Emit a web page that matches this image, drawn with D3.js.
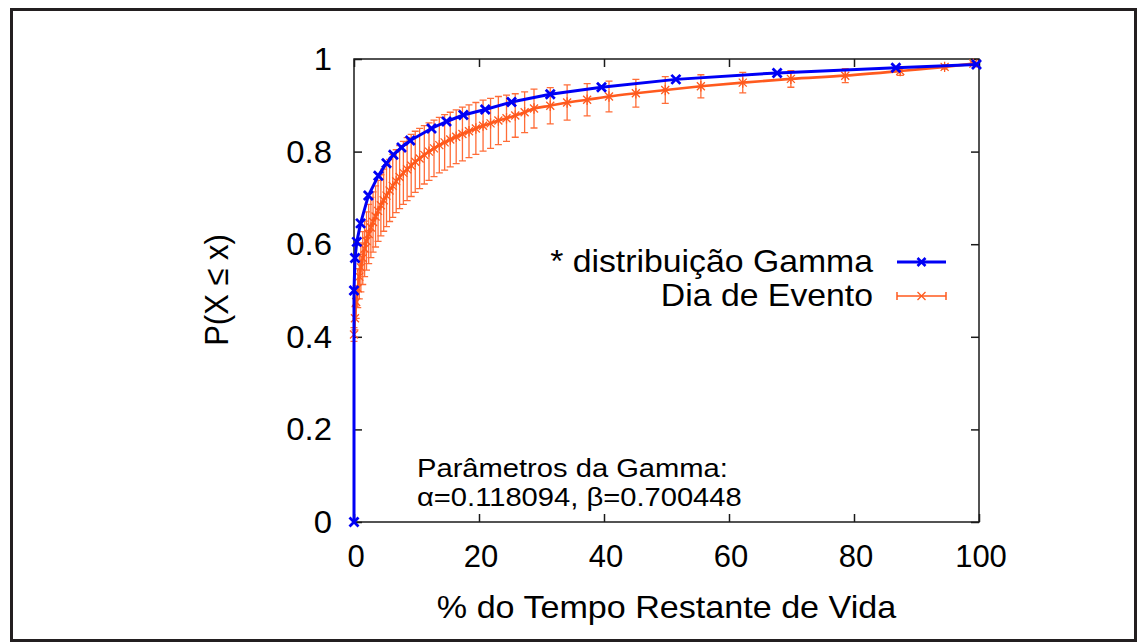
<!DOCTYPE html>
<html>
<head>
<meta charset="utf-8">
<script src="https://cdn.jsdelivr.net/npm/d3@7"></script>
<style>
  html, body { margin: 0; padding: 0; background: #fff; }
  svg { display: block; }
  text { font-family: "Liberation Sans", Arial, Helvetica, sans-serif; fill: #000; }
</style>
</head>
<body>
<svg id="chart" width="1137" height="643"></svg>
<script>
// Fitted Gamma CDF, sampled at the marker positions
const gammaX = [0, 0, 0.16, 0.45, 1.05, 2.3, 3.9, 5.2, 6.3, 7.6, 9.0, 12.4, 14.8, 17.5, 21.0, 25.2, 31.4, 39.6, 51.5, 67.7, 86.7, 99.6];
const gammaY = [0, 0.50, 0.57, 0.605, 0.645, 0.705, 0.748, 0.775, 0.793, 0.809, 0.824, 0.850, 0.865, 0.879, 0.891, 0.907, 0.924, 0.939, 0.956, 0.970, 0.981, 0.988];

// Empirical CDF for event days, with its error half-width
const eventX = [0, 0.15, 0.35, 0.6, 0.85, 1.1, 1.4, 1.7, 2.0, 2.35, 2.7, 3.05, 3.45, 3.85, 4.3, 4.75, 5.2, 5.7, 6.2, 6.75, 7.3, 7.9, 8.5, 9.15, 9.8, 10.5, 11.25, 12.0, 12.8, 13.65, 14.5, 15.4, 16.35, 17.35, 18.4, 19.5, 20.65, 21.85, 23.1, 24.4, 25.8, 27.3, 28.8, 31.4, 34.1, 37.3, 40.8, 45.1, 49.8, 55.5, 62.2, 69.9, 78.6, 87.4, 94.5, 99.1];
const eventY = [0.405, 0.44, 0.475, 0.505, 0.53, 0.55, 0.57, 0.59, 0.607, 0.622, 0.636, 0.648, 0.66, 0.672, 0.684, 0.695, 0.705, 0.716, 0.726, 0.736, 0.745, 0.754, 0.762, 0.770, 0.778, 0.785, 0.793, 0.800, 0.807, 0.814, 0.820, 0.826, 0.832, 0.838, 0.844, 0.850, 0.856, 0.861, 0.867, 0.872, 0.878, 0.885, 0.893, 0.899, 0.906, 0.912, 0.919, 0.926, 0.933, 0.941, 0.949, 0.957, 0.964, 0.974, 0.983, 0.990];
const eventErr = [0.015, 0.025, 0.035, 0.042, 0.048, 0.053, 0.057, 0.06, 0.063, 0.064, 0.065, 0.065, 0.066, 0.066, 0.066, 0.067, 0.067, 0.067, 0.068, 0.068, 0.068, 0.068, 0.068, 0.067, 0.066, 0.065, 0.063, 0.062, 0.061, 0.060, 0.060, 0.059, 0.058, 0.058, 0.057, 0.056, 0.055, 0.054, 0.052, 0.050, 0.047, 0.044, 0.042, 0.039, 0.038, 0.035, 0.033, 0.030, 0.029, 0.025, 0.022, 0.018, 0.015, 0.0095, 0.005, 0.0035];

const xTicks = [0, 20, 40, 60, 80, 100];
const xTickLabels = ["0", "20", "40", "60", "80", "100"];
const yTicks = [0, 0.2, 0.4, 0.6, 0.8, 1];
const yTickLabels = ["0", "0.2", "0.4", "0.6", "0.8", "1"];

const seriesNames = ["* distribuição Gamma", "Dia de Evento"];
const xLabel = "% do Tempo Restante de Vida";
const yLabel = "P(X \u2264 x)";
const noteLines = ["Parâmetros da Gamma:", "\u03B1=0.118094, \u03B2=0.700448"];

const BLUE = "#0000f5";
const ORANGE = "#ff5a1e";
const ORANGE_BAR = "#ff6d38";

const svg = d3.select("#chart");
const plot = { left: 354, top: 59, right: 979, bottom: 522 };

const x = d3.scaleLinear().domain([0, 100]).range([plot.left, plot.right]);
const y = d3.scaleLinear().domain([0, 1]).range([plot.bottom, plot.top]);

// Text is set slightly wide, as in the printed figure
function placeText(sel, px, py, sx, extra) {
  return sel.attr("x", 0).attr("y", 0)
    .attr("transform", `translate(${px},${py}) scale(${sx},1)${extra || ""}`);
}

// Outer page frame
svg.append("rect")
  .attr("x", 11.5).attr("y", 9.5)
  .attr("width", 1124).attr("height", 631)
  .attr("fill", "none").attr("stroke", "#231f20").attr("stroke-width", 3);

// Plot border
svg.append("rect")
  .attr("x", plot.left).attr("y", plot.top)
  .attr("width", plot.right - plot.left).attr("height", plot.bottom - plot.top)
  .attr("fill", "none").attr("stroke", "#1a1a1a").attr("stroke-width", 1.5);

// Inward ticks on all four sides
const tickLen = 8;
const axisStyle = g => {
  g.select(".domain").remove();
  g.selectAll(".tick line").attr("stroke", "#1a1a1a").attr("stroke-width", 1.5);
  g.selectAll(".tick text").remove();
};
svg.append("g").attr("transform", `translate(0,${plot.bottom})`)
  .call(d3.axisTop(x).tickValues(xTicks).tickSize(tickLen)).call(axisStyle);
svg.append("g").attr("transform", `translate(0,${plot.top})`)
  .call(d3.axisBottom(x).tickValues(xTicks).tickSize(tickLen)).call(axisStyle);
svg.append("g").attr("transform", `translate(${plot.left},0)`)
  .call(d3.axisRight(y).tickValues(yTicks).tickSize(tickLen)).call(axisStyle);
svg.append("g").attr("transform", `translate(${plot.right},0)`)
  .call(d3.axisLeft(y).tickValues(yTicks).tickSize(tickLen)).call(axisStyle);

// Tick labels
svg.append("g").selectAll("text").data(xTicks).join("text")
  .attr("text-anchor", "middle").attr("font-size", 31)
  .each(function (d) { placeText(d3.select(this), x(d) + 2, 567, 1.0); })
  .text((d, i) => xTickLabels[i]);
svg.append("g").selectAll("text").data(yTicks).join("text")
  .attr("text-anchor", "end").attr("font-size", 31)
  .each(function (d) { placeText(d3.select(this), 332, y(d) + 11, 1.06); })
  .text((d, i) => yTickLabels[i]);

// Axis titles
placeText(svg.append("text"), (plot.left + plot.right) / 2, 618, 1.1)
  .attr("text-anchor", "middle").attr("font-size", 31)
  .text(xLabel);
placeText(svg.append("text"), 228, 290, 1.1, " rotate(-90)")
  .attr("text-anchor", "middle").attr("font-size", 31)
  .text(yLabel);

// Marker shapes
function crossPath(s) {
  return `M${-s},${-s}L${s},${s}M${-s},${s}L${s},${-s}`;
}
function starPath(s) {
  return `M${-s},${-s}L${s},${s}M${-s},${s}L${s},${-s}M0,${-s * 1.3}L0,${s * 1.3}`;
}

const eventData = eventX.map((d, i) => ({ x: d, y: eventY[i], e: eventErr[i] }));
const gammaData = gammaX.map((d, i) => ({ x: d, y: gammaY[i] }));

// Event-day series: error bars, line, markers
const ev = svg.append("g");
const cap = 3.5;
ev.selectAll("path.err").data(eventData).join("path")
  .attr("class", "err")
  .attr("d", d => {
    const cx = x(d.x), y0 = y(d.y - d.e), y1 = y(d.y + d.e);
    return `M${cx},${y0}L${cx},${y1}M${cx - cap},${y0}L${cx + cap},${y0}M${cx - cap},${y1}L${cx + cap},${y1}`;
  })
  .attr("fill", "none").attr("stroke", ORANGE_BAR).attr("stroke-width", 1.3);
ev.append("path")
  .datum(eventData)
  .attr("d", d3.line().x(d => x(d.x)).y(d => y(d.y)).curve(d3.curveMonotoneX))
  .attr("fill", "none").attr("stroke", ORANGE).attr("stroke-width", 2.6);
ev.selectAll("path.pt").data(eventData).join("path")
  .attr("class", "pt")
  .attr("transform", d => `translate(${x(d.x)},${y(d.y)})`)
  .attr("d", starPath(4))
  .attr("fill", "none").attr("stroke", ORANGE).attr("stroke-width", 1.3);

// Gamma series: line and markers
const gm = svg.append("g");
gm.append("path")
  .datum(gammaData)
  .attr("d", d3.line().x(d => x(d.x)).y(d => y(d.y)))
  .attr("fill", "none").attr("stroke", BLUE).attr("stroke-width", 3).attr("stroke-linejoin", "round");
gm.selectAll("path.pt").data(gammaData).join("path")
  .attr("class", "pt")
  .attr("transform", d => `translate(${x(d.x)},${y(d.y)})`)
  .attr("d", crossPath(4.5))
  .attr("fill", "none").attr("stroke", BLUE).attr("stroke-width", 2.8);

// Legend
const legend = svg.append("g");
const legRows = [262, 296];
legend.selectAll("text").data(seriesNames).join("text")
  .attr("text-anchor", "end").attr("font-size", 31)
  .each(function (d, i) { placeText(d3.select(this), 873, legRows[i] + 10, 1.09); })
  .text(d => d);
legend.append("line")
  .attr("x1", 897).attr("x2", 946).attr("y1", legRows[0]).attr("y2", legRows[0])
  .attr("stroke", BLUE).attr("stroke-width", 3);
legend.append("path")
  .attr("transform", `translate(921.5,${legRows[0]})`)
  .attr("d", crossPath(4))
  .attr("fill", "none").attr("stroke", BLUE).attr("stroke-width", 2.6);
legend.append("path")
  .attr("d", `M897,${legRows[1]}L946,${legRows[1]}M897,${legRows[1] - 4}L897,${legRows[1] + 4}M946,${legRows[1] - 4}L946,${legRows[1] + 4}`)
  .attr("fill", "none").attr("stroke", ORANGE).attr("stroke-width", 1.5);
legend.append("path")
  .attr("transform", `translate(921.5,${legRows[1]})`)
  .attr("d", crossPath(4))
  .attr("fill", "none").attr("stroke", ORANGE).attr("stroke-width", 1.3);

// Parameter note
svg.append("g").selectAll("text").data(noteLines).join("text")
  .attr("font-size", 26.5)
  .each(function (d, i) { placeText(d3.select(this), 417, 477 + i * 29, 1.1); })
  .text(d => d);
</script>
</body>
</html>
